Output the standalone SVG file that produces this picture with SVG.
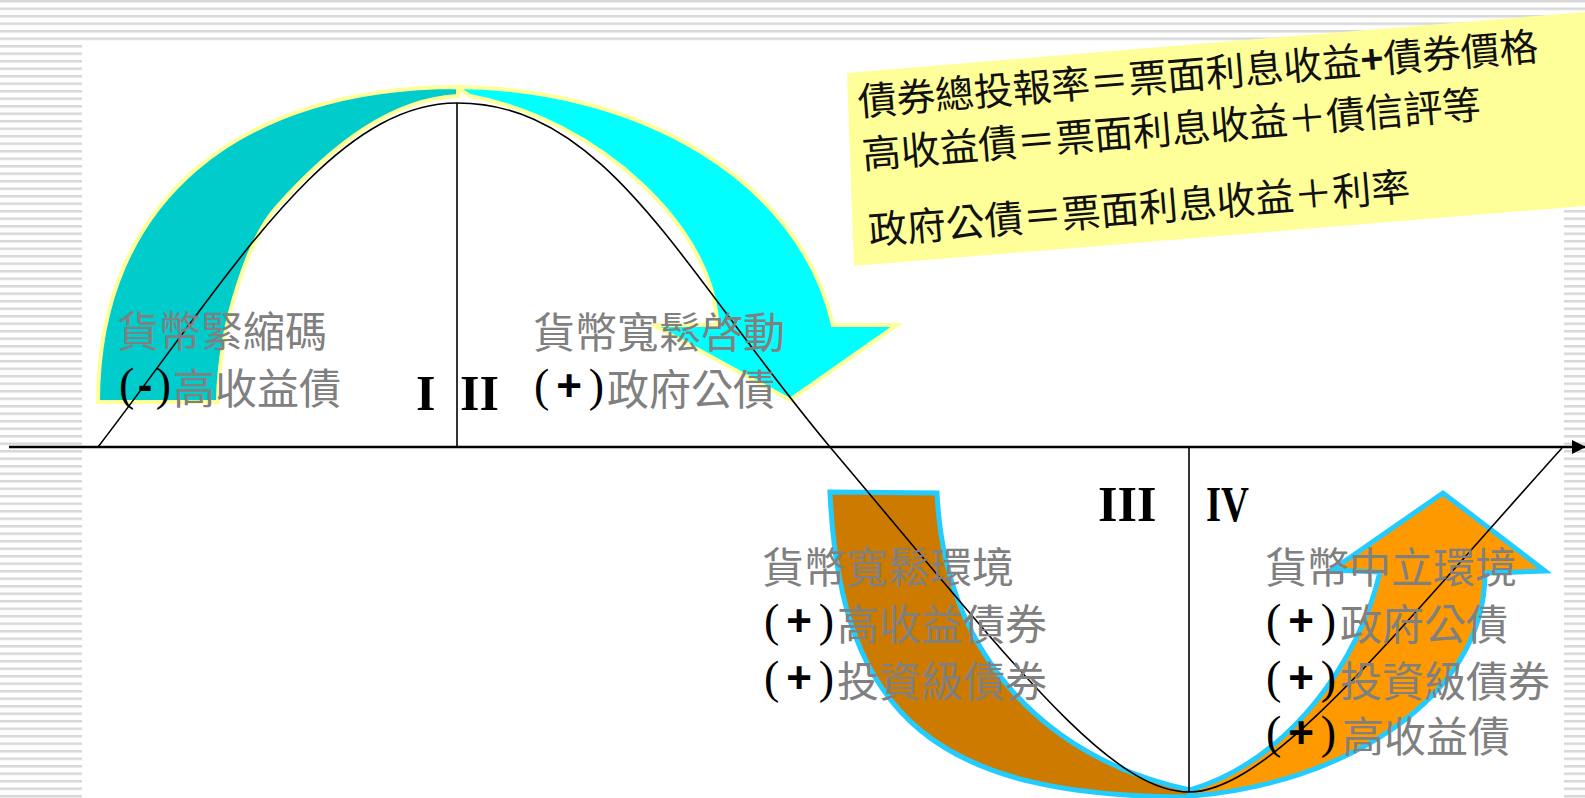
<svg xmlns="http://www.w3.org/2000/svg" width="1585" height="798" viewBox="0 0 1585 798">
<defs>
<pattern id="stripes" width="8" height="7.5" patternUnits="userSpaceOnUse">
<rect width="8" height="7.5" fill="#ffffff"/>
<rect y="0" width="8" height="2.5" fill="#d8d8d8"/>
</pattern>
<marker id="axhead" markerWidth="14" markerHeight="14" refX="13" refY="7" orient="auto" markerUnits="userSpaceOnUse">
<path d="M0,0 L14,7 L0,14 Z" fill="#000"/>
</marker>
<style>
.lbl{font-family:'Noto Sans CJK TC','Noto Sans CJK SC',sans-serif;font-size:42px;fill:#808080;}
.pm{font-family:'Liberation Serif',serif;font-size:46px;fill:#000;}
.pm tspan{font-family:'Liberation Sans',sans-serif;font-weight:bold;font-size:44px;}
.num{font-family:'Liberation Serif',serif;font-size:50px;font-weight:bold;fill:#000;}
.note{font-family:'Noto Sans CJK TC','Noto Sans CJK SC',sans-serif;font-size:38.8px;fill:#111;}
.arrY{stroke:#FFFF99;stroke-width:4;stroke-linejoin:miter;}
.arrC{stroke:#22CCFF;stroke-width:5;stroke-linejoin:miter;}
.ln{fill:none;stroke:#000;stroke-width:1.6;}
</style>
</defs>
<rect width="1585" height="798" fill="#ffffff"/>
<g id="background">
<rect x="0" y="0" width="1585" height="41" fill="url(#stripes)"/>
<rect x="0" y="41" width="82" height="757" fill="url(#stripes)"/>
<rect x="1564" y="206" width="21" height="592" fill="url(#stripes)"/>
</g>
<g id="note-box">
<polygon points="847,73 1585,12 1585,206 854,266" fill="#FFFF99"/>
<g transform="rotate(-4.7 859 116)">
<text class="note" x="859" y="116">債券總投報率＝票面利息收益<tspan font-weight="bold">+</tspan>債券價格</text>
<text class="note" x="859" y="169">高收益債＝票面利息收益＋債信評等</text>
<text class="note" x="859" y="245">政府公債＝票面利息收益＋利率</text>
</g>
</g>
<g id="arrows">
<path id="arrow1" class="arrY" fill="#00CCCC" d="M98,402 C98,200 240,87 458,87 L458,96 C393,99 334,143 276,208 C251,236 219,320 218,402 Z"/>
<path id="arrow2" class="arrY" fill="#00FFFF" d="M456,87 C640,88 800,180 833,325 L897,325 L790,400 L653,325 L717,325 C715,230 600,120 470,96 Z"/>
<path id="arrow3" class="arrC" fill="#CC7A00" d="M830,492 C840,720 940,797 1190,797 L1190,790 C1050,760 945,660 937,493 Z"/>
<path id="arrow4" class="arrC" fill="#FF9900" d="M1190,796 C1340,785 1485,700 1485,573 L1545,571 L1443,493 L1332,570 L1380,572 C1360,660 1290,760 1190,790 Z"/>
</g>
<g id="connectors">
<line x1="9" y1="447" x2="1585" y2="447" stroke="#000" stroke-width="2.5" marker-end="url(#axhead)"/>
<line class="ln" x1="457" y1="103" x2="457" y2="447"/>
<line class="ln" x1="1189" y1="447" x2="1189" y2="792"/>
<path class="ln" d="M98,447 C228,278 330,103 457,103 C607,103 680,268 830,447 C1010,660 1109,792 1189,792 C1269,792 1392,637 1562,448"/>
</g>
<g id="quadrants">
<text class="num" x="416" y="410">I</text>
<text class="num" x="460" y="410">II</text>
<text class="num" x="1098" y="521">III</text>
<text class="num" x="1206" y="521" textLength="43" lengthAdjust="spacingAndGlyphs">IV</text>
</g>
<g id="label-q1">
<text class="lbl" x="117" y="347">貨幣緊縮碼</text>
<text class="pm" x="119" y="400" textLength="52" lengthAdjust="spacing">(<tspan>-</tspan>)</text>
<text class="lbl" x="173" y="404">高收益債</text>
</g>
<g id="label-q2">
<text class="lbl" x="533" y="348">貨幣寬鬆啓動</text>
<text class="pm" x="534" y="401" textLength="70" lengthAdjust="spacing">(<tspan>+</tspan>)</text>
<text class="lbl" x="607" y="405">政府公債</text>
</g>
<g id="label-q3">
<text class="lbl" x="762" y="583">貨幣寬鬆環境</text>
<text class="pm" x="764" y="636" textLength="70" lengthAdjust="spacing">(<tspan>+</tspan>)</text>
<text class="lbl" x="837" y="640">高收益債券</text>
<text class="pm" x="764" y="693" textLength="70" lengthAdjust="spacing">(<tspan>+</tspan>)</text>
<text class="lbl" x="837" y="697">投資級債券</text>
</g>
<g id="label-q4">
<text class="lbl" x="1265" y="583">貨幣中立環境</text>
<text class="pm" x="1266" y="636" textLength="70" lengthAdjust="spacing">(<tspan>+</tspan>)</text>
<text class="lbl" x="1340" y="640">政府公債</text>
<text class="pm" x="1266" y="693" textLength="70" lengthAdjust="spacing">(<tspan>+</tspan>)</text>
<text class="lbl" x="1340" y="697">投資級債券</text>
<text class="pm" x="1266" y="748" textLength="70" lengthAdjust="spacing">(<tspan>+</tspan>)</text>
<text class="lbl" x="1342" y="752">高收益債</text>
</g>
</svg>
